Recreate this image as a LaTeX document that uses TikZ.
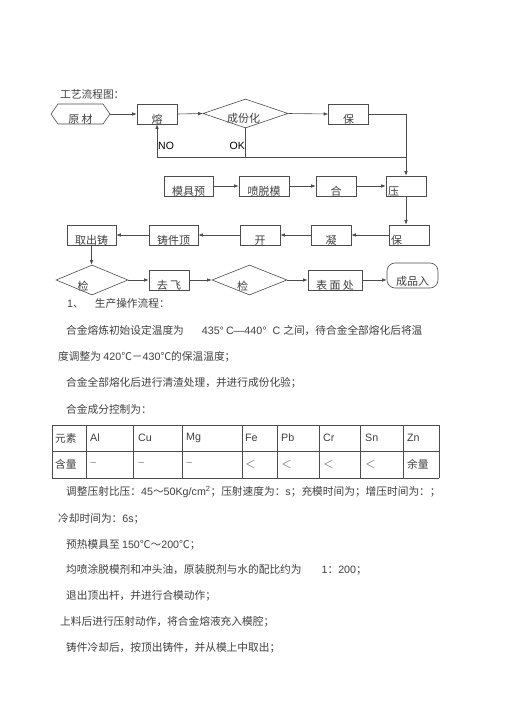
\documentclass[tikz,border=0pt]{standalone}
\usepackage{fontspec}
\setmainfont{Noto Sans CJK SC}
\newfontfamily\latfont{Liberation Sans}
\usepackage{xcolor}
\usepackage{tikz}
\usetikzlibrary{arrows.meta,shapes.geometric,shapes.symbols}

\newcommand\ltn[1]{{\latfont #1}}
\newcommand\bodysize{\fontsize{10.7pt}{12pt}\selectfont}
\newcommand\boxsize{\fontsize{11pt}{12pt}\selectfont}
\newcommand\sqig{{\color{gray}\latfont\textasciitilde}}
\definecolor{linegray}{gray}{0.3}
\definecolor{textgray}{gray}{0.25}

\tikzset{
  conn/.style={draw=linegray, line width=0.6pt},
  arr/.style={conn, -{Latex[length=4.5pt,width=3.5pt]}},
  box/.style={conn, rectangle, minimum width=#1, minimum height=20pt, inner xsep=2pt,
    inner ysep=0.5pt, text height=19pt, text depth=0pt, font=\boxsize, text=textgray},
  lbox/.style={box=40pt, text width=36pt, align=left},
  dia/.style={conn, diamond, inner sep=0pt},
  hexa/.style={conn, signal, signal to=east and west, signal pointer angle=110,
    minimum width=59pt, minimum height=20pt, inner sep=0pt},
  endbox/.style={conn, rectangle, rounded corners=8pt, minimum width=51pt, minimum height=25pt},
  lab/.style={inner sep=0pt, font=\boxsize, text=textgray},
  txt/.style={inner sep=0pt, anchor=west, font=\bodysize, text=textgray},
  cell/.style={inner sep=0pt, anchor=west, font=\bodysize, text=textgray},
}

\begin{document}
\begin{tikzpicture}[x=1pt, y=-1pt]
            \useasboundingbox[fill=white] (0,0) rectangle (505,714);

            \node[txt] at (60,94) (title) {工艺流程图：};

            % first row
            \node[hexa, label={[lab, yshift=-5pt]center:原 材}] at (80.5,114) (yuancai) {};
            \node[box=40pt] at (157,114) (rong) {熔};
            \node[dia, minimum width=85pt, minimum height=29pt,
                label={[lab, xshift=-2pt, yshift=-5pt]center:成份化}] at (245.5,113.5) (chengfen) {};
            \node[box=40pt] at (348.5,114) (bao) {保};

            % second row
            \node[box=49pt] at (188.5,186) (mujuyu) {模具预};
            \node[box=50pt] at (264,186) (penmo) {喷脱模};
            \node[box=40pt] at (336,186) (he) {合};
            \node[lbox] at (406,186) (ya) {压};

            % third row
            \node[lbox] at (409,235) (baoya) {保};
            \node[box=40pt] at (331,235) (ning) {凝};
            \node[box=40pt] at (260,235) (kai) {开};
            \node[box=49pt] at (173.5,235) (dingchu) {铸件顶};
            \node[box=49pt] at (91.5,235) (quchu) {取出铸};

            % fourth row
            \node[dia, minimum width=72pt, minimum height=30pt,
                label={[lab, xshift=-9pt, yshift=-6pt]center:检}] at (92,280) (jian) {};
            \node[box=40pt] at (169,280) (qufei) {去 飞};
            \node[dia, minimum width=75pt, minimum height=30pt,
                label={[lab, xshift=-7pt, yshift=-6pt]center:检}] at (249.5,280) (jianbis) {};
            \node[box=54pt] at (335,280) (biaomian) {表 面 处};
            \node[endbox, label={[lab, yshift=-6pt]center:成品入}] at (412.5,275.5) (chengpin) {};

            \coordinate (loop) at (245.5,157);
            \node[lab, anchor=west, font=\latfont\fontsize{10.5pt}{12pt}\selectfont, text=black] at (158,146) (no) {NO};
            \node[lab, anchor=east, font=\latfont\fontsize{10.5pt}{12pt}\selectfont, text=black] at (245,146) (ok) {OK};

            \draw[arr] (yuancai.east) -- (rong.west);
            \draw[arr] (rong.east) -- (chengfen.west);
            \draw[arr] (chengfen.east) -- (bao.west);
            \draw[arr] (bao.east) -| (ya.north);
            \draw[arr] (chengfen.south) -- (loop) -| (rong.south);
            \draw[conn] (loop) -- (loop -| ya.north);

            \draw[arr] (mujuyu) -- (penmo);
            \draw[arr] (penmo) -- (he);
            \draw[arr] (he) -- (ya);
            \draw[arr] (ya.south) -- (ya.south |- baoya.north);

            \draw[arr] (baoya) -- (ning);
            \draw[arr] (ning) -- (kai);
            \draw[arr] (kai) -- (dingchu);
            \draw[arr] (dingchu) -- (quchu);
            \draw[arr] (quchu.south) -- (quchu.south |- jian.north);

            \draw[arr] (jian.east) -- (qufei.west);
            \draw[arr] (qufei.east) -- (jianbis.west);
            \draw[arr] (jianbis.east) -- (biaomian.west);
            \draw[arr] (biaomian.east) -- (biaomian.east -| chengpin.west);

            % text
            \node[txt] at (67,303) (sec) {\ltn{1}、\hspace{11pt}生产操作流程：};
            \node[txt] at (66,331) (p1) {合金熔炼初始设定温度为\hspace{18pt}\ltn{435°\hspace{2pt}C—440°\hspace{6pt}C}\hspace{3pt}之间，待合金全部熔化后将温};
            \node[txt] at (58,357) (p2) {度调整为 \ltn{420}℃－\ltn{430}℃的保温温度；};
            \node[txt] at (66,383) (p3) {合金全部熔化后进行清渣处理，并进行成份化验；};
            \node[txt] at (66,409) (p4) {合金成分控制为：};

            % table
            \foreach \x in {52,86,133,182,242,277,319,360,403,439}
                \draw[conn] (\x,425) -- (\x,478);
            \foreach \y in {425,451,478}
                \draw[conn] (52,\y) -- (439,\y);
            \foreach \x/\top/\bot in {55/元素/含量, 90/\ltn{Al}/\sqig, 138/\ltn{Cu}/\sqig,
                    186/\ltn{Mg}/\sqig, 245/\ltn{Fe}/{\color{gray}＜}, 281/\ltn{Pb}/{\color{gray}＜},
                    323/\ltn{Cr}/{\color{gray}＜}, 365/\ltn{Sn}/{\color{gray}＜}, 407/\ltn{Zn}/余量}
            {
                \node[cell] at (\x,438) (top\x) {\top};
                \node[cell] at (\x,464) (bot\x) {\bot};
            }

            \node[txt] at (66,492) (p5) {调整压射比压：\ltn{45}～\ltn{50Kg/cm\textsuperscript{2}}；压射速度为：\ltn{s}；充模时间为；增压时间为：；};
            \node[txt] at (58,519) (p6) {冷却时间为：\ltn{6s}；};
            \node[txt] at (66,545) (p7) {预热模具至 \ltn{150}℃～\ltn{200}℃；};
            \node[txt] at (66,570) (p8) {均喷涂脱模剂和冲头油，原装脱剂与水的配比约为\hspace{20pt}\ltn{1}：\ltn{200}；};
            \node[txt] at (66,596) (p9) {退出顶出杆，并进行合模动作；};
            \node[txt] at (60,622) (p10) {上料后进行压射动作，将合金熔液充入模腔；};
            \node[txt] at (66,648) (p11) {铸件冷却后，按顶出铸件，并从模上中取出；};
        \end{tikzpicture}
\end{document}
